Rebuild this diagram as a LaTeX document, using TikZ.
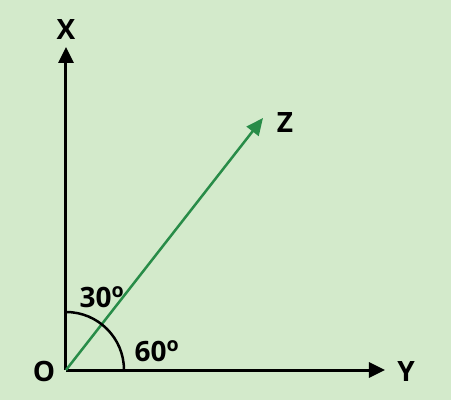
\documentclass[tikz,border=0pt]{standalone}
\usepackage{fontspec}
\setmainfont{Open Sans}
\usetikzlibrary{arrows.meta}
\definecolor{bggreen}{RGB}{211,234,203}
\definecolor{zgreen}{RGB}{40,140,72}
\tikzset{
	axis/.style={line width=3pt, -{Triangle[width=15pt, length=16pt]}},
	lbl/.style={font=\fontsize{28}{32}\selectfont\bfseries, inner sep=0pt}
}

\begin{document}
\begin{tikzpicture}[x=1pt, y=1pt]
		%%%%% START %%%%%
		
		\fill[bggreen] (-66, -30) rectangle (385, 370);
		\useasboundingbox (-66, -30) rectangle (385, 370);
		
		\coordinate (O) at (0, 0);
		\coordinate (Xend) at (0, 323);
		\coordinate (Yend) at (319, 0);
		\coordinate (Zend) at (197, 252);
		
		\draw[axis] (O) -- (Xend);
		\draw[axis] (O) -- (Yend);
		\draw[line width=2.5pt, color=zgreen, -{Triangle[width=15pt, length=17pt]}] (O) -- (Zend);
		
		\draw[line width=2.5pt] (58, 0) arc (0:90:58);
		
		\node[lbl] (labO) at (-22, -1) {O};
		\node[lbl] (labX) at (0, 340) {X};
		\node[lbl] (labY) at (340, -2) {Y};
		\node[lbl] (labZ) at (219, 247) {Z};
		\node[lbl] (lab30) at (36, 73) {30\textsuperscript{o}};
		\node[lbl] (lab60) at (91, 19) {60\textsuperscript{o}};
		
		%%%%% END %%%%%
	\end{tikzpicture}
\end{document}
